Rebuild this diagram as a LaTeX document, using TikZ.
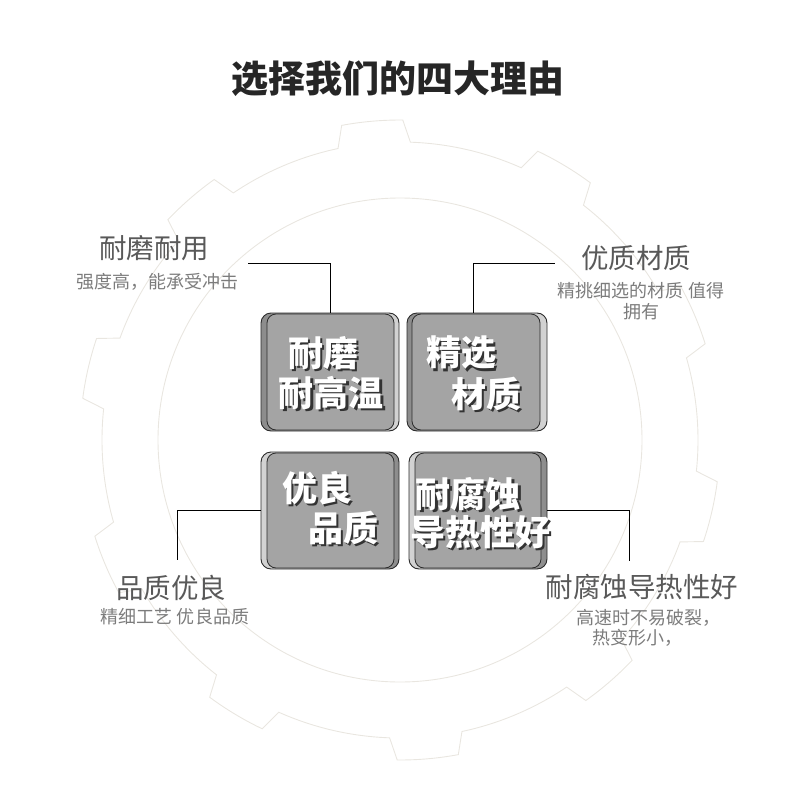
\documentclass[tikz,border=0pt]{standalone}
\usepackage{fontspec}
\newfontfamily\cjk{Noto Sans CJK SC}
\usetikzlibrary{calc}
\definecolor{gearline}{HTML}{E9E6E0}
\definecolor{titlegray}{HTML}{262626}
\definecolor{headgray}{HTML}{595959}
\definecolor{subgray}{HTML}{7C7C7C}
\definecolor{plategray}{HTML}{A4A4A4}
\definecolor{edgegray}{HTML}{2B2B2B}

% white word with a dark drop shadow, one line of a box
\newcommand\boxword[3]{%
  \node[wordshade] (#1s) at ($(#2)+(2.5,2.5)$) {#3};
  \node[word] (#1) at (#2) {#3};}

\begin{document}
\begin{tikzpicture}[x=1pt, y=-1pt,
  gear/.style={draw=gearline, line width=0.9pt},
  back/.style={draw=edgegray, line width=0.9pt, rounded corners=10pt, inner sep=0pt, minimum height=118pt},
  backr/.style={back, left color=plategray!85!black, right color=black!17},
  backl/.style={back, left color=black!17, right color=plategray!85!black},
  front/.style={draw=edgegray, line width=0.8pt, fill=plategray, rounded corners=9pt, inner sep=0pt, minimum height=116pt},
  word/.style={font=\cjk\bfseries\fontsize{35}{38}\selectfont, text=white, inner sep=0pt},
  wordshade/.style={word, text=black!80},
  head/.style={font=\cjk\fontsize{27.5}{30}\selectfont, text=headgray, inner sep=0pt},
  sub/.style={font=\cjk\fontsize{18}{21}\selectfont, text=subgray, inner sep=0pt, align=center},
  link/.style={draw=black, line width=0.8pt}
]
  \useasboundingbox (0,0) rectangle (800,800);

  % gear in the background
  \begin{scope}[shift={(400,440)}]
    \draw[gear] (-102:298)
      \foreach \i [evaluate=\i as \a using -95+36*\i] in {0,...,9} {
        -- (\a-5.5:320) arc[start angle=\a-5.5, end angle=\a+5.5, radius=320]
        -- (\a+7:298) arc[start angle=\a+7, end angle=\a+29, radius=298]
      } -- cycle;
    \draw[gear] (0,0) circle[radius=242];
  \end{scope}

  \node[font=\cjk\bfseries\fontsize{37}{40}\selectfont, text=titlegray, inner sep=0pt] (title) at (398,79) {选择我们的四大理由};

  % the four boxes
  \node[backr, minimum width=138pt] (b1) at (330,372) {};
  \node[front, minimum width=127pt] (f1) at (330.5,372) {};
  \node[backr, minimum width=140pt] (b2) at (477,372) {};
  \node[front, minimum width=128pt] (f2) at (476,372) {};
  \node[backl, minimum width=138pt, minimum height=117pt] (b3) at (330,510.5) {};
  \node[front, minimum width=127pt, minimum height=115pt] (f3) at (330.5,510.5) {};
  \node[backl, minimum width=138pt, minimum height=117pt] (b4) at (478,510.5) {};
  \node[front, minimum width=126pt, minimum height=115pt] (f4) at (478,510.5) {};

  \boxword{w1a}{323,353}{耐磨}
  \boxword{w1b}{331,393}{耐高温}
  \boxword{w2a}{461,353}{精选}
  \boxword{w2b}{486,394}{材质}
  \boxword{w3a}{317,488}{优良}
  \boxword{w3b}{343,528}{品质}
  \boxword{w4a}{468,494}{耐腐蚀}
  \boxword{w4b}{480,532}{导热性好}

  % side texts
  \node[head] (h1) at (154,248) {耐磨耐用};
  \node[sub] (s1) at (157,282) {强度高，能承受冲击};
  \node[head] (h2) at (636,258) {优质材质};
  \node[sub] (s2) at (641,301) {精挑细选的材质 值得\\拥有};
  \node[head] (h3) at (171,588) {品质优良};
  \node[sub] (s3) at (175,617) {精细工艺 优良品质};
  \node[head] (h4) at (642,587) {耐腐蚀导热性好};
  \node[sub, anchor=west] (s4a) at (576,618) {高速时不易破裂，};
  \node[sub, anchor=west] (s4b) at (592,638) {热变形小，};

  % connectors
  \coordinate (c1) at (248,263);
  \coordinate (c2) at (555,263);
  \coordinate (k2) at (473,263);
  \coordinate (c3) at (177,560);
  \coordinate (c4) at (629,561);
  \draw[link] (c1) -| (b1.north);
  \draw[link] (k2 |- b2.north) -- (k2) -- (c2);
  \draw[link] (b3.west) -| (c3);
  \draw[link] (b4.east) -| (c4);
\end{tikzpicture}
\end{document}
